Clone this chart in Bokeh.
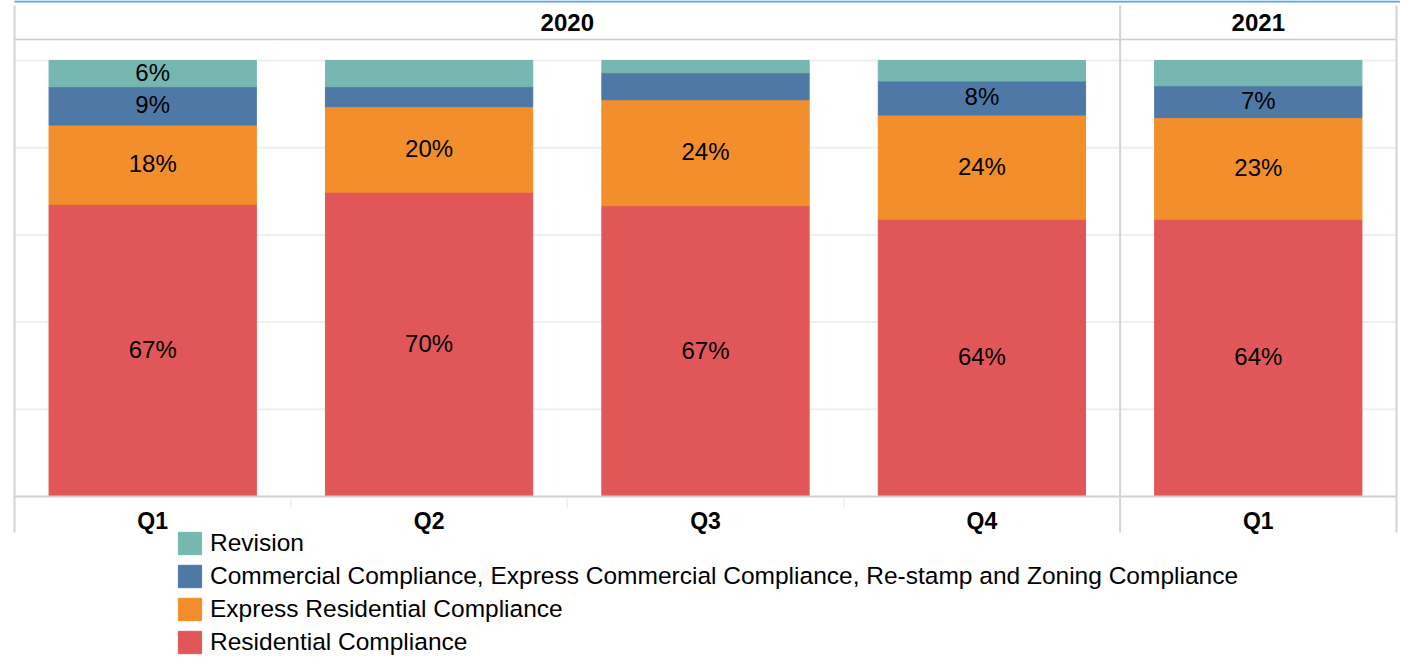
from bokeh.plotting import figure
from bokeh.models import FactorRange, Range1d, ColumnDataSource, Legend, LegendItem
from bokeh.core.properties import value
from bokeh.embed import file_html
from bokeh.resources import INLINE

# ---------------- data ----------------
quarters = ["Q1", "Q2", "Q3", "Q4", "Q1"]
years = ["2020", "2020", "2020", "2020", "2021"]

series_names = [
    "Residential Compliance",
    "Express Residential Compliance",
    "Commercial Compliance, Express Commercial Compliance, Re-stamp and Zoning Compliance",
    "Revision",
]
residential = [67.0, 69.8, 66.7, 63.6, 63.6]
express = [18.2, 19.6, 24.3, 23.9, 23.3]
commercial = [8.8, 4.6, 6.2, 7.8, 7.3]
revision = [6.0, 6.0, 2.8, 4.7, 5.8]

# which segment labels are shown in the original
residential_show = [1, 1, 1, 1, 1]
express_show = [1, 1, 1, 1, 1]
commercial_show = [1, 0, 0, 1, 1]
revision_show = [1, 0, 0, 0, 0]

colors = ["#E15759", "#F28E2B", "#4E79A7", "#76B7B2"]

# ---------------- layout constants ----------------
W, H = 1400, 656
BORDER_L = 10           # figure px left of frame
PAD_PX = 4
FRAME_W = W - BORDER_L
n = len(quarters)
unit_px = (FRAME_W - 2 * PAD_PX) / n
pad = PAD_PX / unit_px

BASE_PAGE = 496         # y of 0 %
TOP_PAGE = 60           # y of 100 %
ppu = (BASE_PAGE - TOP_PAGE) / 100.0
y_end = BASE_PAGE / ppu
y_start = y_end - H / ppu


def yp(page_y):
    return (BASE_PAGE - page_y) / ppu


keys = [f"{y} {q}" for y, q in zip(years, quarters)]
stackers = ["residential", "express", "commercial", "revision"]
source = ColumnDataSource(dict(x=keys, residential=residential, express=express,
                               commercial=commercial, revision=revision))

p = figure(width=W, height=H, output_backend="svg", toolbar_location=None,
           x_range=FactorRange(factors=keys, range_padding=pad,
                               range_padding_units="absolute", factor_padding=0),
           y_range=Range1d(y_start, y_end),
           x_axis_location=None, y_axis_location=None,
           min_border_left=BORDER_L, min_border_right=0,
           min_border_top=0, min_border_bottom=0)
p.grid.visible = False
p.outline_line_color = None
p.background_fill_color = "white"
p.border_fill_color = "white"

FONT = value("Liberation Sans")
x_end = n + pad

# light horizontal grid lines
grid_vals = [20, 40, 60, 80, 100]
p.segment(x0=[0] * len(grid_vals), x1=[n] * len(grid_vals), y0=grid_vals, y1=grid_vals,
          line_color="#efefef", line_width=2)

# bars
renderers = p.vbar_stack(stackers, x="x", width=0.75, color=colors, source=source)

# segment labels
all_vals = [residential, express, commercial, revision]
all_show = [residential_show, express_show, commercial_show, revision_show]
lx, ly, lt = [], [], []
bottoms = [0.0] * n
for vals, show in zip(all_vals, all_show):
    for i in range(n):
        if show[i]:
            lx.append(keys[i])
            ly.append(bottoms[i] + vals[i] / 2)
            lt.append(f"{round(vals[i])}%")
        bottoms[i] += vals[i]
p.text(x="x", y="y", text="t", source=ColumnDataSource(dict(x=lx, y=ly, t=lt)),
       text_font=FONT, text_font_size="24px", text_align="center",
       text_baseline="middle", text_color="#000000", y_offset=-1)

# frame lines
p.segment(x0=[0], x1=[x_end], y0=[yp(1)], y1=[yp(1)], line_color="#55A5F2", line_width=2)
p.segment(x0=[0], x1=[n], y0=[yp(39)], y1=[yp(39)], line_color="#cccccc", line_width=1.5)
p.segment(x0=[0], x1=[n], y0=[0], y1=[0], line_color="#d0d0d0", line_width=2)

# year groups
groups = []
for i, yv in enumerate(years):
    if groups and groups[-1][0] == yv:
        groups[-1][2] = i + 1
    else:
        groups.append([yv, i, i + 1])
vx = [0] + [g[2] for g in groups]
p.segment(x0=vx, x1=vx, y0=[yp(5)] * len(vx), y1=[yp(532)] * len(vx),
          line_color="#d4d4d4", line_width=2)
# faint separators between quarters in axis row
inner = [i for i in range(1, n) if i not in vx]
p.segment(x0=inner, x1=inner, y0=[yp(498)] * len(inner), y1=[yp(507)] * len(inner),
          line_color="#eeeeee", line_width=1.5)

p.text(x=[(g[1] + g[2]) / 2 for g in groups], y=[yp(22)] * len(groups),
       text=[g[0] for g in groups], text_font=FONT, text_font_size="24px",
       text_font_style="bold", text_align="center", text_baseline="middle",
       text_color="#000000")

# quarter labels
p.text(x=keys, y=[yp(520)] * n, text=quarters, text_font=FONT, text_font_size="23px",
       text_font_style="bold", text_align="center", text_baseline="middle",
       text_color="#000000")

# legend (Bokeh insets area glyphs by 10% on each side)
items = [LegendItem(label=name, renderers=[r])
         for name, r in reversed(list(zip(series_names, renderers)))]
legend = Legend(items=items, location=(175 - BORDER_L, 0),
                orientation="vertical", label_text_font="Liberation Sans",
                label_text_font_size="24.5px", label_text_color="#000000",
                glyph_width=29, glyph_height=28, label_height=28, spacing=5,
                label_standoff=6, padding=0, margin=0,
                border_line_alpha=0, background_fill_alpha=0)
p.add_layout(legend)

open("out.html", "w").write(file_html(p, INLINE))
